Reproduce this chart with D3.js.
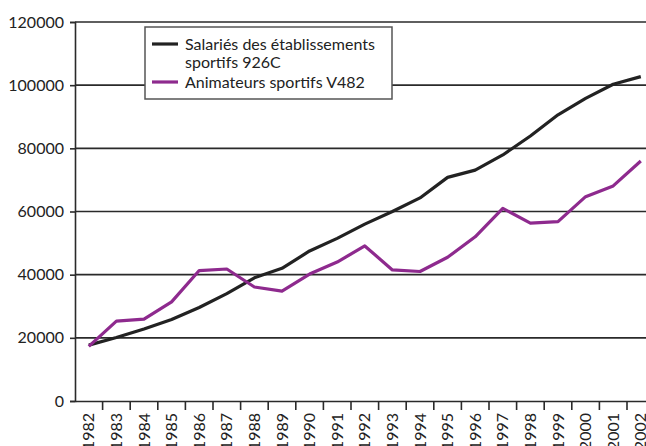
<!DOCTYPE html>
<html>
<head>
<meta charset="utf-8">
<script src="https://cdn.jsdelivr.net/npm/d3@7"></script>
<style>
  body { margin: 0; background: #fff; }
  text { font-family: Lato, "Open Sans", sans-serif; fill: #222; }
</style>
</head>
<body>
<div id="screen"></div>
<script>
// years on the x axis
var years = ["1982","1983","1984","1985","1986","1987","1988","1989","1990","1991","1992",
             "1993","1994","1995","1996","1997","1998","1999","2000","2001","2002"];

// Salariés des établissements sportifs 926C
var salaries = [17700, 20100, 22800, 25800, 29600, 34000, 39000, 42000, 47500, 51500, 56000,
                60000, 64300, 70800, 73100, 77900, 83900, 90600, 95800, 100300, 102700];

// Animateurs sportifs V482
var animateurs = [17300, 25300, 25900, 31400, 41300, 41800, 36100, 34800, 40200, 44000, 49100,
                  41500, 41000, 45500, 52000, 61000, 56300, 56800, 64700, 68100, 76000];

var yTicks = [0, 20000, 40000, 60000, 80000, 100000, 120000];

var legendLabels = [["Salariés des établissements", "sportifs 926C"], ["Animateurs sportifs V482"]];
var colors = ["#222222", "#8e2a8e"];

var W = 646, H = 446;
var mLeft = 75, mTop = 22, mBottom = 401;

var svg = d3.select("#screen").append("svg")
    .attr("width", W)
    .attr("height", H);

var x = d3.scaleBand()
    .domain(years)
    .range([mLeft, mLeft + years.length * 27.6]);

var y = d3.scaleLinear()
    .domain([0, 120000])
    .range([mBottom, mTop]);

// gridlines
svg.selectAll(".grid")
    .data(yTicks.filter(d => d > 0))
    .enter()
    .append("line")
    .attr("x1", mLeft)
    .attr("x2", W)
    .attr("y1", d => y(d))
    .attr("y2", d => y(d))
    .attr("stroke", "#2a2a2a")
    .attr("stroke-width", 1.6);

// y axis
var yAxis = svg.append("g")
    .attr("transform", "translate(" + mLeft + ",0)")
    .call(d3.axisLeft(y).tickValues(yTicks).tickFormat(d3.format("d")).tickSize(5).tickPadding(6));
yAxis.select(".domain").attr("stroke", "#2a2a2a").attr("stroke-width", 1.6);
yAxis.selectAll(".tick line").attr("stroke", "#2a2a2a").attr("stroke-width", 1.6);
yAxis.selectAll("text").attr("font-size", 16).style("font-family", "Lato, sans-serif").attr("fill", "#222");

// x axis
var xAxis = svg.append("g")
    .attr("transform", "translate(0," + mBottom + ")")
    .call(d3.axisBottom(x).tickSize(0).tickPadding(0));
xAxis.select(".domain").attr("stroke", "#2a2a2a").attr("stroke-width", 1.6);
xAxis.selectAll("text")
    .attr("font-size", 16)
    .style("font-family", "Lato, sans-serif")
    .attr("fill", "#222")
    .attr("transform", "rotate(-90)")
    .attr("text-anchor", "end")
    .attr("x", -12)
    .attr("y", 0)
    .attr("dy", "0.35em");

// tick marks between categories
svg.selectAll(".xtick")
    .data(years.slice(1))
    .enter()
    .append("line")
    .attr("x1", d => x(d))
    .attr("x2", d => x(d))
    .attr("y1", mBottom)
    .attr("y2", mBottom + 9)
    .attr("stroke", "#2a2a2a")
    .attr("stroke-width", 1.6);

// lines
var line = d3.line()
    .x((d, i) => x(years[i]) + x.bandwidth() / 2)
    .y(d => y(d));

[salaries, animateurs].forEach(function(s, i){
    svg.append("path")
        .datum(s)
        .attr("d", line)
        .attr("fill", "none")
        .attr("stroke", colors[i])
        .attr("stroke-width", 3.2)
        .attr("stroke-linejoin", "round");
});

// legend
var lg = svg.append("g");
lg.append("rect")
    .attr("x", 145).attr("y", 27)
    .attr("width", 247).attr("height", 72)
    .attr("fill", "#fff")
    .attr("stroke", "#555")
    .attr("stroke-width", 1.5);

var legendY = [[44, 62], [82]];
legendLabels.forEach(function(lab, i){
    lg.append("line")
        .attr("x1", 152).attr("x2", 178)
        .attr("y1", legendY[i][0]).attr("y2", legendY[i][0])
        .attr("stroke", colors[i])
        .attr("stroke-width", 3.2);
    lab.forEach(function(t, j){
        lg.append("text")
            .attr("x", 185)
            .attr("y", legendY[i][j])
            .attr("dy", "0.35em")
            .attr("font-size", 16)
            .text(t);
    });
});
</script>
</body>
</html>
